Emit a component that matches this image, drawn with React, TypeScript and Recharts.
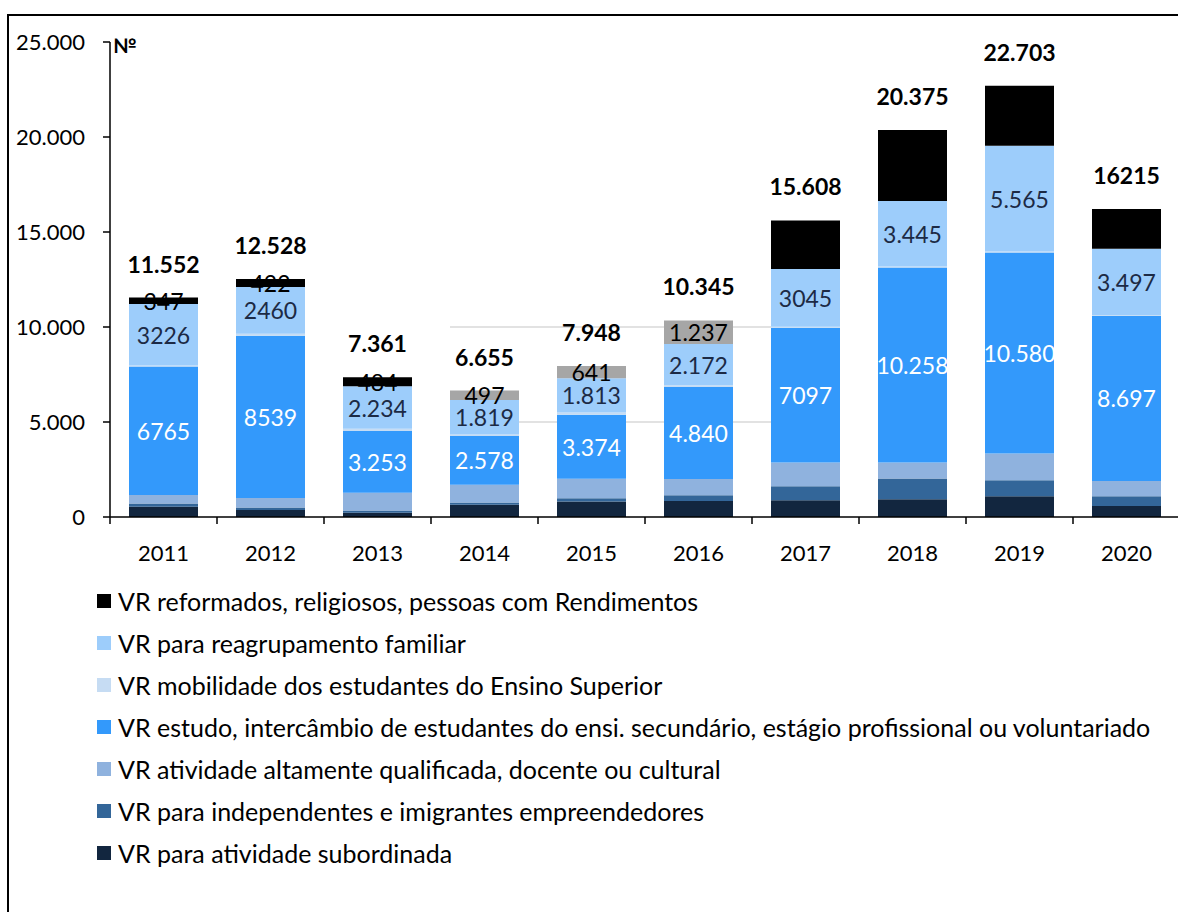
import { Bar, BarChart, CartesianGrid, Cell, LabelList, XAxis, YAxis } from "recharts"

const years = ["2011", "2012", "2013", "2014", "2015", "2016", "2017", "2018", "2019", "2020"]

// stacked bottom -> top
const subordinada = [534, 367, 220, 641, 810, 846, 880, 930, 1088, 579]
const independentes = [170, 130, 120, 120, 180, 300, 740, 1090, 850, 510]
const qualificada = [450, 500, 930, 930, 1020, 850, 1250, 850, 1400, 810]
const estudo = [6765, 8539, 3253, 2578, 3374, 4840, 7097, 10258, 10580, 8697]
const mobilidade = [60, 110, 120, 70, 110, 100, 40, 60, 50, 30]
const reagrupamento = [3226, 2460, 2234, 1819, 1813, 2172, 3045, 3445, 5565, 3497]
const reformados = [347, 422, 484, 497, 641, 1237, 2556, 3742, 3170, 2092]

// labels exactly as printed in the source
const estudoLabels = ["6765", "8539", "3.253", "2.578", "3.374", "4.840", "7097", "10.258", "10.580", "8.697"]
const reagrupLabels = ["3226", "2460", "2.234", "1.819", "1.813", "2.172", "3045", "3.445", "5.565", "3.497"]
const reformLabels = ["347", "422", "484", "497", "641", "1.237", "", "", "", ""]
const totalLabels = ["11.552", "12.528", "7.361", "6.655", "7.948", "10.345", "15.608", "20.375", "22.703", "16215"]

const yTicks = [0, 5000, 10000, 15000, 20000, 25000]
const gridValues = [5000, 10000]

const series = [
  { key: "reformados", name: "VR reformados, religiosos, pessoas com Rendimentos", color: "#000000" },
  { key: "reagrupamento", name: "VR para reagrupamento familiar", color: "#9dcdfb" },
  { key: "mobilidade", name: "VR mobilidade dos estudantes do Ensino Superior", color: "#c6dcf3" },
  { key: "estudo", name: "VR estudo, intercâmbio de estudantes do ensi. secundário, estágio profissional ou voluntariado", color: "#3399fb" },
  { key: "qualificada", name: "VR atividade altamente qualificada, docente ou cultural", color: "#8fb2de" },
  { key: "independentes", name: "VR para independentes e imigrantes empreendedores", color: "#336699" },
  { key: "subordinada", name: "VR para atividade subordinada", color: "#12263f" },
]
const color = (k: string) => series.find((s) => s.key === k)!.color
// 2014-2016 top segment drawn in grey
const greyTop = ["2014", "2015", "2016"]

const data = years.map((year, i) => ({
  year,
  subordinada: subordinada[i],
  independentes: independentes[i],
  qualificada: qualificada[i],
  estudo: estudo[i],
  mobilidade: mobilidade[i],
  reagrupamento: reagrupamento[i],
  reformados: reformados[i],
}))

const FONT = "Lato, 'Open Sans', sans-serif"
const CHART_W = 1200
const CHART_H = 590
const PLOT_TOP = 42
const PLOT_H = 475
const Y_W = 110
const M_RIGHT = 20
const BAR = 69
const BAND = (CHART_W - Y_W - M_RIGHT) / years.length

const fmt = (v: number) => String(v).replace(/\B(?=(\d{3})+(?!\d))/g, ".")

function YearTick(props: any) {
  const { x, y, payload } = props
  return (
    <g>
      <line x1={x - BAND / 2} x2={x - BAND / 2} y1={y} y2={y + 7} stroke="#000" strokeWidth={1.5} />
      <text x={x} y={y + 35} textAnchor="middle" dominantBaseline="central" fontSize={22} fontFamily={FONT} fill="#000">
        {payload.value}
      </text>
    </g>
  )
}

// partial grid lines: only from the 2014 bar to the 2017 bar, as in the source
const partialGrid = (p: any) => {
  const start = p.x1 + BAND * years.indexOf("2014") + (BAND - BAR) / 2
  const end = p.x1 + BAND * years.indexOf("2017") + (BAND - BAR) / 2
  return <line key={p.key} x1={start} x2={end} y1={p.y1} y2={p.y2} stroke="#d9d9d9" strokeWidth={1.5} />
}

const segLabel = (labels: string[], fill: string) => (p: any) => {
  const { x, y, width, height, index } = p
  const t = labels[index]
  if (!t) return null
  return (
    <text x={x + width / 2} y={y + height / 2} textAnchor="middle" dominantBaseline="central" fontSize={23} fontFamily={FONT} fill={fill}>
      {t}
    </text>
  )
}

const totalLabel = (p: any) => {
  const { x, y, width, index } = p
  return (
    <text x={x + width / 2} y={y - 34} textAnchor="middle" dominantBaseline="central" fontSize={23} fontWeight={700} fontFamily={FONT} fill="#000">
      {totalLabels[index]}
    </text>
  )
}

export default function App() {
  return (
    <div style={{ position: "absolute", left: 0, top: 0, width: 1178, height: 912, overflow: "hidden", background: "#fff", fontFamily: FONT }}>
      <div style={{ position: "absolute", left: 7, top: 14, width: 1200, height: 1000, borderLeft: "2px solid #000", borderTop: "2px solid #000" }} />
      <div style={{ position: "absolute", left: 0, top: 0 }}>
        <BarChart
          width={CHART_W}
          height={CHART_H}
          data={data}
          margin={{ top: PLOT_TOP, right: M_RIGHT, left: 0, bottom: 0 }}
          barSize={BAR}
        >
          <CartesianGrid vertical={false} horizontalValues={gridValues} horizontal={partialGrid} />
          <XAxis
            dataKey="year"
            height={CHART_H - PLOT_TOP - PLOT_H}
            tickLine={false}
            tickSize={0}
            tickMargin={0}
            axisLine={{ stroke: "#000", strokeWidth: 1.5 }}
            tick={<YearTick />}
            interval={0}
          />
          <YAxis
            width={Y_W}
            domain={[0, 25000]}
            ticks={yTicks}
            tickFormatter={fmt}
            tickSize={7}
            tickMargin={18}
            axisLine={{ stroke: "#000", strokeWidth: 1.5 }}
            tickLine={{ stroke: "#000", strokeWidth: 1.5 }}
            tick={{ fill: "#000", fontSize: 22, fontFamily: FONT }}
            allowDataOverflow
          />
          <Bar dataKey="subordinada" stackId="a" fill={color("subordinada")} isAnimationActive={false} />
          <Bar dataKey="independentes" stackId="a" fill={color("independentes")} isAnimationActive={false} />
          <Bar dataKey="qualificada" stackId="a" fill={color("qualificada")} isAnimationActive={false} />
          <Bar dataKey="estudo" stackId="a" fill={color("estudo")} isAnimationActive={false}>
            <LabelList dataKey="estudo" content={segLabel(estudoLabels, "#ffffff")} />
          </Bar>
          <Bar dataKey="mobilidade" stackId="a" fill={color("mobilidade")} isAnimationActive={false} />
          <Bar dataKey="reagrupamento" stackId="a" fill={color("reagrupamento")} isAnimationActive={false}>
            <LabelList dataKey="reagrupamento" content={segLabel(reagrupLabels, "#1c2a45")} />
          </Bar>
          <Bar dataKey="reformados" stackId="a" fill={color("reformados")} isAnimationActive={false}>
            {data.map((d) => (
              <Cell key={d.year} fill={greyTop.includes(d.year) ? "#a6a6a6" : color("reformados")} />
            ))}
            <LabelList dataKey="reformados" content={segLabel(reformLabels, "#000000")} />
            <LabelList dataKey="reformados" content={totalLabel} />
          </Bar>
        </BarChart>
      </div>
      <div style={{ position: "absolute", left: 113, top: 33, fontSize: 20, fontWeight: 700 }}>№</div>
      <div style={{ position: "absolute", left: 97, top: 580 }}>
        {series.map((s) => (
          <div key={s.key} style={{ height: 42, display: "flex", alignItems: "center", fontSize: 25, color: "#000", whiteSpace: "nowrap" }}>
            <span style={{ width: 14, height: 14, background: s.color, marginRight: 7, display: "inline-block", flexShrink: 0 }} />
            {s.name}
          </div>
        ))}
      </div>
    </div>
  )
}
